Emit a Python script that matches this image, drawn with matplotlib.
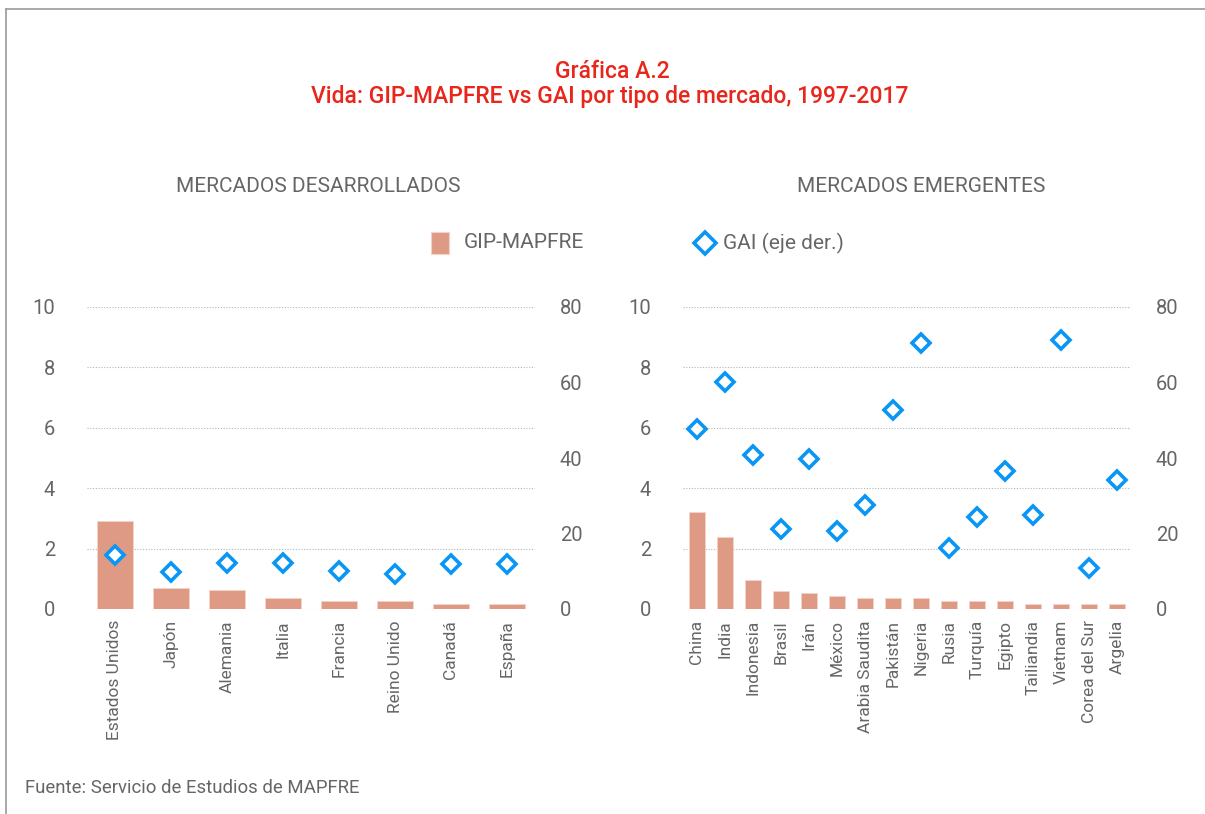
import matplotlib
matplotlib.use("Agg")
import matplotlib.pyplot as plt
from matplotlib.lines import Line2D
from matplotlib.patches import Rectangle
import numpy as np

plt.rcParams['font.family'] = ['Roboto', 'DejaVu Sans']

# ---- data ----
dev_countries = ["Estados Unidos", "Japón", "Alemania", "Italia", "Francia",
                 "Reino Unido", "Canadá", "España"]
dev_gip = [2.9, 0.7, 0.62, 0.35, 0.27, 0.27, 0.17, 0.17]
dev_gai = [14.3, 9.9, 12.1, 12.1, 10.0, 9.4, 12.0, 11.9]

emg_countries = ["China", "India", "Indonesia", "Brasil", "Irán", "México",
                 "Arabia Saudita", "Pakistán", "Nigeria", "Rusia", "Turquía",
                 "Egipto", "Tailiandia", "Vietnam", "Corea del Sur", "Argelia"]
emg_gip = [3.2, 2.4, 0.97, 0.6, 0.52, 0.44, 0.35, 0.35, 0.35, 0.27, 0.27,
           0.27, 0.17, 0.17, 0.17, 0.17]
emg_gai = [47.6, 60.2, 40.9, 21.1, 39.8, 20.6, 27.6, 52.7, 70.5, 16.1, 24.5,
           36.6, 24.9, 71.3, 10.8, 34.1]

left_ticks = [0, 2, 4, 6, 8, 10]
right_ticks = [0, 20, 40, 60, 80]

BAR = "#df9a85"
BLUE = "#0a96f5"
GRAY = "#666666"
RED = "#e8261b"

W, H = 1205, 814
fig = plt.figure(figsize=(W / 100, H / 100), dpi=100)


def px_axes(x0, y0, x1, y1):
    return fig.add_axes([x0 / W, 1 - y1 / H, (x1 - x0) / W, (y1 - y0) / H])


def panel(ax, names, gip, gai, width):
    x = np.arange(len(names))
    ax.set_xlim(-0.5, len(names) - 0.5)
    ax.set_ylim(0, 10)
    ax.set_yticks(left_ticks)
    ax.yaxis.grid(True, linestyle=(0, (1, 1.5)), color="#b5b5b5", linewidth=0.8)
    ax.set_axisbelow(True)
    ax.bar(x, gip, width=width, color=BAR, edgecolor="#f3d2c8", linewidth=0.6, zorder=2)
    ax.set_xticks(x)
    ax.set_xticklabels(names, rotation=90, fontsize=12.5, color=GRAY)
    for s in ax.spines.values():
        s.set_visible(False)
    ax.tick_params(axis="both", length=0)
    ax.tick_params(axis="x", pad=8)
    ax.tick_params(axis="y", pad=23, labelsize=14.5, labelcolor=GRAY)
    ax2 = ax.twinx()
    ax2.set_ylim(0, 80)
    ax2.set_yticks(right_ticks)
    ax2.plot(x, gai, linestyle="none", marker="D", markersize=9,
             markerfacecolor="white", markeredgecolor=BLUE, markeredgewidth=2.6, zorder=3)
    for s in ax2.spines.values():
        s.set_visible(False)
    ax2.tick_params(axis="y", length=0, pad=18, labelsize=14.5, labelcolor=GRAY)
    return ax2


ax1 = px_axes(87, 307, 535, 609)
panel(ax1, dev_countries, dev_gip, dev_gai, 0.65)
ax3 = px_axes(683, 307, 1131, 609)
panel(ax3, emg_countries, emg_gip, emg_gai, 0.6)

# titles
fig.text(612 / W, 1 - 72 / H, "Gráfica A.2", ha="center", va="center",
         fontsize=16.5, color=RED, fontweight="medium")
fig.text(610 / W, 1 - 97 / H, "Vida: GIP-MAPFRE vs GAI por tipo de mercado, 1997-2017",
         ha="center", va="center", fontsize=16.5, color=RED, fontweight="medium")
fig.text(318 / W, 1 - 187 / H, "MERCADOS DESARROLLADOS", ha="center", va="center",
         fontsize=15, color=GRAY)
fig.text(921 / W, 1 - 187 / H, "MERCADOS EMERGENTES", ha="center", va="center",
         fontsize=15, color=GRAY)

# legend
fig.add_artist(Rectangle((431 / W, 1 - 254 / H), 18 / W, 22 / H,
                         transform=fig.transFigure, facecolor=BAR,
                         edgecolor="#f3d2c8", linewidth=0.8))
fig.text(464 / W, 1 - 243 / H, "GIP-MAPFRE", ha="left", va="center",
         fontsize=15, color=GRAY)
fig.add_artist(Line2D([705 / W], [1 - 243 / H], transform=fig.transFigure,
                      marker="D", markersize=11, markerfacecolor="white",
                      markeredgecolor=BLUE, markeredgewidth=2.6, linestyle="none"))
fig.text(723 / W, 1 - 243 / H, "GAI (eje der.)", ha="left", va="center",
         fontsize=15, color=GRAY)

# source
fig.text(25 / W, 1 - 788 / H, "Fuente: Servicio de Estudios de MAPFRE", ha="left",
         va="center", fontsize=13.4, color=GRAY)

# frame
fig.add_artist(Line2D([6 / W, 1], [1 - 9 / H, 1 - 9 / H], transform=fig.transFigure,
                      color="#9a9a9a", linewidth=1.2))
fig.add_artist(Line2D([6 / W, 6 / W], [1 - 9 / H, 0], transform=fig.transFigure,
                      color="#9a9a9a", linewidth=1.2))

fig.savefig("out.png", dpi=100)
